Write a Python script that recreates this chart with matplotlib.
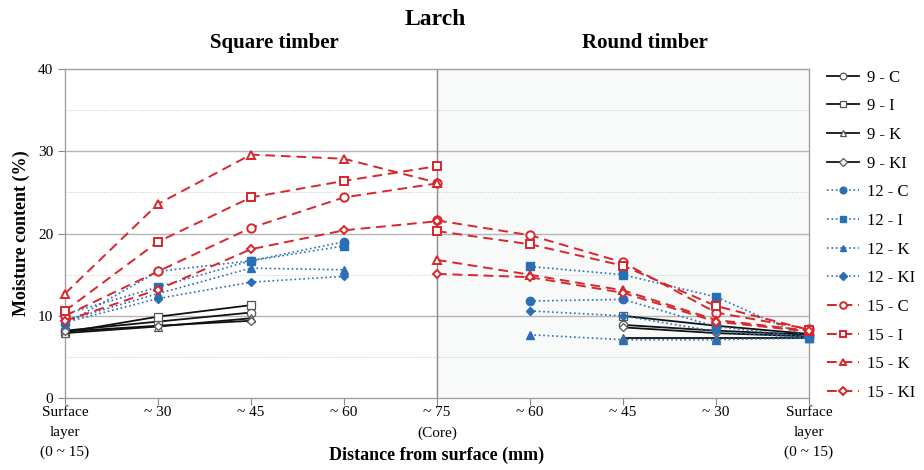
import numpy as np
import matplotlib.pyplot as plt

plt.rcParams['font.family'] = ['Liberation Serif', 'DejaVu Serif']

tick_labels = ['Surface\nlayer\n(0 ~ 15)', '~ 30', '~ 45', '~ 60', '~ 75\n(Core)',
               '~ 60', '~ 45', '~ 30', 'Surface\nlayer\n(0 ~ 15)']

# square timber: surface -> core (positions 0..)
sq_x9 = [0, 1, 2]
sq_x12 = [0, 1, 2, 3]
sq_x15 = [0, 1, 2, 3, 4]
square = {
    '9 - C': [8.2, 9.3, 10.4],
    '9 - I': [8.0, 9.9, 11.3],
    '9 - K': [7.9, 8.7, 9.7],
    '9 - KI': [8.1, 8.8, 9.4],
    '12 - C': [9.0, 15.4, 16.7, 19.0],
    '12 - I': [10.2, 13.5, 16.7, 18.5],
    '12 - K': [9.4, 12.7, 15.8, 15.6],
    '12 - KI': [9.2, 12.1, 14.1, 14.8],
    '15 - C': [10.0, 15.4, 20.7, 24.4, 26.1],
    '15 - I': [10.6, 19.0, 24.4, 26.4, 28.2],
    '15 - K': [12.7, 23.6, 29.6, 29.1, 26.2],
    '15 - KI': [9.4, 13.2, 18.1, 20.4, 21.5],
}

# round timber: core -> surface
rd_x9 = [6, 7, 8]
rd_x12 = [5, 6, 7, 8]
rd_x15 = [4, 5, 6, 7, 8]
round_ = {
    '9 - C': [8.9, 8.2, 7.7],
    '9 - I': [10.0, 8.8, 7.8],
    '9 - K': [7.3, 7.3, 7.3],
    '9 - KI': [8.6, 7.9, 7.5],
    '12 - C': [11.8, 12.0, 8.7, 7.4],
    '12 - I': [16.0, 15.0, 12.3, 7.3],
    '12 - K': [7.7, 7.1, 7.1, 7.3],
    '12 - KI': [10.6, 10.0, 8.1, 7.3],
    '15 - C': [21.6, 19.8, 16.5, 10.4, 8.4],
    '15 - I': [20.3, 18.7, 16.1, 11.2, 8.3],
    '15 - K': [16.8, 15.0, 13.1, 9.5, 8.2],
    '15 - KI': [15.1, 14.7, 12.8, 9.3, 8.1],
}

markers = {'C': 'o', 'I': 's', 'K': '^', 'KI': 'D'}
msizes = {'C': 6, 'I': 6, 'K': 6, 'KI': 4.5}
black = '#111111'
blue = '#2a6fb5'
red = '#d7262c'

fig = plt.figure(figsize=(9.24, 4.70), dpi=100)
ax = fig.add_axes([0.0703, 0.153, 0.8052, 0.70])

ax.axvspan(4, 8, color='#f8fafa', zorder=0)
for v in [5, 15, 25, 35]:
    ax.axhline(v, color='#c8c8c8', lw=0.7, ls=':', zorder=1)
for v in [10, 20, 30]:
    ax.axhline(v, color='#b5b5b5', lw=1.0, zorder=1)
ax.axvline(4, color='#8a8a8a', lw=1.0, zorder=1)


def style(name):
    grp, typ = name.split(' - ')
    m = markers[typ]
    ms = msizes[typ]
    if grp == '9':
        return dict(color=black, ls='-', lw=1.3, marker=m, ms=ms, mfc='white',
                    mec='#555555', mew=0.9)
    if grp == '12':
        return dict(color=blue, ls=':', lw=1.2, marker=m, ms=ms, mfc=blue, mec=blue)
    return dict(color=red, ls=(0, (5, 3)), lw=1.4, marker=m, ms=ms, mfc='white',
                mec=red, mew=1.4)


xs_sq = {'9': sq_x9, '12': sq_x12, '15': sq_x15}
xs_rd = {'9': rd_x9, '12': rd_x12, '15': rd_x15}

for name in square:
    grp = name.split(' - ')[0]
    st = style(name)
    ax.plot(xs_sq[grp], square[name], label=name, zorder=3, clip_on=False, **st)
    ax.plot(xs_rd[grp], round_[name], zorder=3, clip_on=False, **st)

ax.set_xlim(0, 8)
ax.set_ylim(0, 40)
ax.set_yticks([0, 10, 20, 30, 40])
ax.set_xticks(np.arange(9))
ax.set_xticklabels(tick_labels, fontsize=11, linespacing=1.65)
ax.tick_params(axis='both', colors='#888888', labelcolor='black', labelsize=11,
               length=5, width=0.8)
ax.tick_params(axis='x', pad=1)
for s in ax.spines.values():
    s.set_color('#a0a0a0')
    s.set_linewidth(1.0)

ax.set_ylabel('Moisture content (%)', fontsize=13, fontweight='bold', labelpad=6)
ax.set_xlabel('Distance from surface (mm)', fontsize=13, fontweight='bold', labelpad=-9)

fig.text(0.471, 0.958, 'Larch', ha='center', va='center', fontsize=17, fontweight='bold')
fig.text(0.297, 0.909, 'Square timber', ha='center', va='center', fontsize=15, fontweight='bold')
fig.text(0.698, 0.909, 'Round timber', ha='center', va='center', fontsize=15, fontweight='bold')

fig.legend(loc='upper left', bbox_to_anchor=(0.888, 0.866), frameon=False,
           fontsize=12, handlelength=1.9, labelspacing=0.76, handletextpad=0.5,
           borderaxespad=0, markerscale=0.8)

fig.savefig('out.png', dpi=100)
